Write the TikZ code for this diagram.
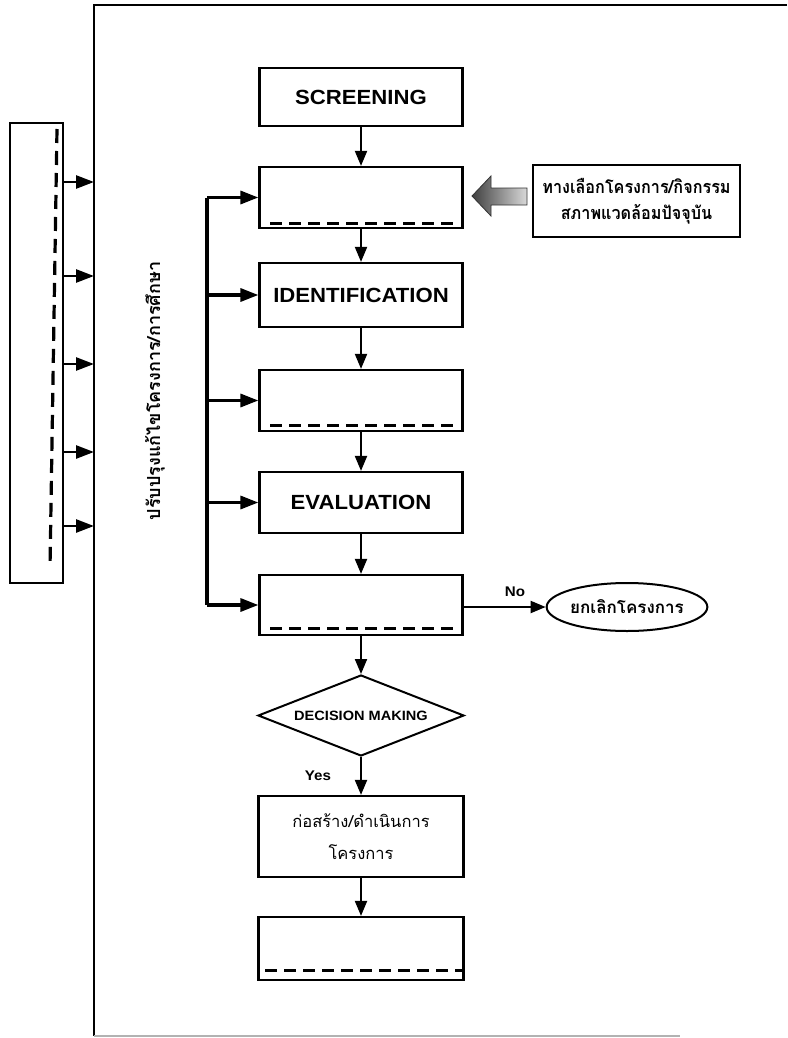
\documentclass[tikz,border=0pt]{standalone}
\usepackage{fontspec}
\setmainfont{Liberation Sans}
\newfontfamily\hfont[FakeStretch=1.08]{Liberation Sans}
\newfontfamily\thai[Script=Thai]{Loma}
\newfontfamily\thain[Script=Thai,FakeStretch=0.9]{Loma}
\usetikzlibrary{arrows.meta,shapes.geometric,calc}
\tikzset{
  box/.style={draw,line width=2.2pt,minimum width=203pt,minimum height=61pt,inner sep=0pt},
  ttl/.style={font=\hfont\bfseries\fontsize{20.5}{24}\selectfont},
  dline/.style={line width=2.8pt,dash pattern=on 12pt off 7pt},
  arr/.style={line width=2pt,-{Triangle[length=15pt,width=12pt]}},
  fb/.style={line width=3.2pt,-{Triangle[length=18pt,width=13pt]}},
  frame/.style={line width=2.6pt},
  lbl/.style={font=\hfont\bfseries\fontsize{14}{16}\selectfont}
}
\begin{document}
\begin{tikzpicture}[x=1pt,y=-1pt]
\useasboundingbox (0,0) rectangle (787,1038);
% outer frame
\coordinate (ftl) at (94,5);
\coordinate (ftr) at (787,5);
\coordinate (fbl) at (94,1036);
\coordinate (fbr) at (680,1036);
\draw[frame] (ftr) -- (ftl) -- (fbl);
\draw[line width=1.5pt,gray!60] (fbl) -- (fbr);

% main column
\node[box,minimum height=58pt,ttl] (scr) at (361,97) {SCREENING};
\node[box] (b2) at (361,197.5) {};
\node[box,minimum height=64pt,ttl] (idn) at (361,295) {IDENTIFICATION};
\node[box] (b4) at (361,400.5) {};
\node[box,ttl] (ev) at (361,502.5) {EVALUATION};
\node[box,minimum height=60pt] (b6) at (361,605) {};
\node[diamond,draw,line width=2pt,inner sep=0pt,aspect=2.5,minimum width=206pt,minimum height=81pt,
      font=\hfont\bfseries\fontsize{13.5}{16}\selectfont] (dm) at (361,715.5) {DECISION MAKING};
\node[box,minimum width=205pt,minimum height=81pt,align=center,
      font=\thai\fontsize{16.5}{32}\selectfont] (bld) at (361,836.5) {ก่อสร้าง/ดำเนินการ\\โครงการ};
\node[box,minimum width=205pt,minimum height=63pt] (last) at (361,948.5) {};

% dashed lines inside boxes
\draw[dline] ([xshift=12pt,yshift=6pt]b2.south west) -- ([xshift=-4pt,yshift=6pt]b2.south east);
\draw[dline] ([xshift=12pt,yshift=7pt]b4.south west) -- ([xshift=-4pt,yshift=7pt]b4.south east);
\draw[dline] ([xshift=12pt,yshift=8pt]b6.south west) -- ([xshift=-4pt,yshift=8pt]b6.south east);
\draw[dline] ([xshift=8pt,yshift=11pt]last.south west) -- ([xshift=-3pt,yshift=11pt]last.south east);

% vertical flow arrows
\draw[arr] (scr) -- (b2);
\draw[arr] (b2) -- (idn);
\draw[arr] (idn) -- (b4);
\draw[arr] (b4) -- (ev);
\draw[arr] (ev) -- (b6);
\draw[arr] (b6) -- (dm);
\draw[arr] (dm) -- (bld);
\draw[arr] (bld) -- (last);
\node[lbl] (yes) at (318,776) {Yes};

% No branch
\node[ellipse,draw,line width=2pt,minimum width=158pt,minimum height=48pt,inner sep=0pt,
      font=\thai\bfseries\fontsize{17}{20}\selectfont] (can) at (627,607) {ยกเลิกโครงการ};
\draw[arr] (b6.east |- can.west) -- (can.west);
\node[lbl] (no) at (515,592) {No};

% right info box and grey arrow
\node[draw,line width=2pt,minimum width=207pt,minimum height=72pt,inner sep=0pt,align=center,
      font=\thain\bfseries\fontsize{18}{26}\selectfont] (rb) at (636.5,201) {ทางเลือกโครงการ/กิจกรรม\\สภาพแวดล้อมปัจจุบัน};
\draw[draw=black!80,line width=0.8pt,left color=black!75,right color=gray!30]
  (472,196) -- (491,176) -- (491,188) -- (527,188) -- (527,205) -- (491,205) -- (491,216) -- cycle;

% feedback loop
\coordinate (f1) at (207,0 |- b2.west);
\coordinate (f2) at (207,0 |- idn.west);
\coordinate (f3) at (207,0 |- b4.west);
\coordinate (f4) at (207,0 |- ev.west);
\coordinate (f5) at (207,0 |- b6.west);
\draw[line width=3.2pt] (f1) -- (f5);
\draw[fb] (f1) -- (b2.west);
\draw[fb] (f2) -- (idn.west);
\draw[fb] (f3) -- (b4.west);
\draw[fb] (f4) -- (ev.west);
\draw[fb] (f5) -- (b6.west);
\node[rotate=90,font=\thai\bfseries\fontsize{18}{21}\selectfont] (vt) at (155,391) {ปรับปรุงแก้ไขโครงการ/การศึกษา};

% left box
\node[draw,line width=2.2pt,minimum width=53pt,minimum height=460pt,inner sep=0pt] (lb) at (36.5,353) {};
\draw[line width=3.2pt,dash pattern=on 14pt off 8pt] (57,129) -- (50,568);
\coordinate (L1) at (94,182);
\coordinate (L2) at (94,276);
\coordinate (L3) at (94,364);
\coordinate (L4) at (94,452);
\coordinate (L5) at (94,526);
\foreach \p in {L1,L2,L3,L4,L5} \draw[fb,line width=2.6pt] (lb.east |- \p) -- (\p);
\end{tikzpicture}
\end{document}
